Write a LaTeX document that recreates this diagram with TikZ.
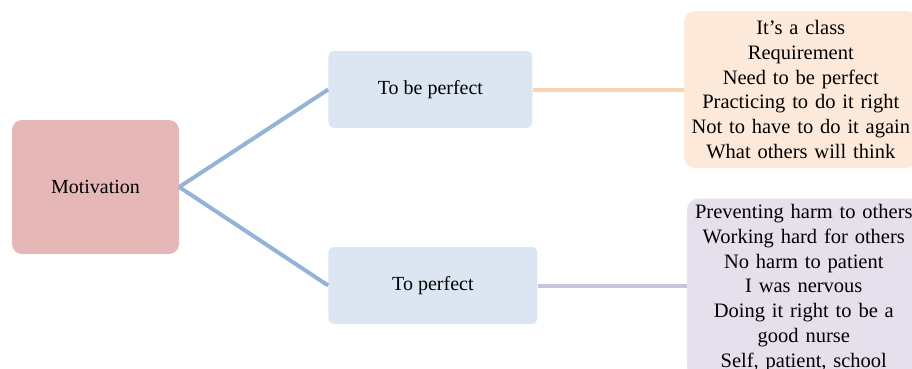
\documentclass[tikz,border=0pt]{standalone}
\usepackage{fontspec}
\setmainfont{Liberation Serif}
\usepackage{tikz}
\usetikzlibrary{positioning,calc}
\definecolor{rosebox}{HTML}{E5B8B7}
\definecolor{bluebox}{HTML}{DCE6F2}
\definecolor{peachbox}{HTML}{FDE9D9}
\definecolor{lilacbox}{HTML}{E5E0EC}
\definecolor{blueline}{HTML}{95B3D7}
\definecolor{peachline}{HTML}{FBD4B4}
\definecolor{lilacline}{HTML}{CCC1DA}
\tikzstyle{root} = [rectangle, fill=rosebox, rounded corners=10pt, %
   minimum width=167pt, minimum height=134pt, inner sep=0pt, %
   font=\fontsize{20}{24}\selectfont]
\tikzstyle{branch} = [rectangle, fill=bluebox, rounded corners=6pt, %
   minimum height=77pt, inner sep=0pt, font=\fontsize{20}{24}\selectfont]
\tikzstyle{leaf} = [rectangle, rounded corners=12pt, text width=226pt, %
   inner xsep=4pt, inner ysep=2pt, align=center, %
   font=\fontsize{20.5}{24.8}\selectfont]
\tikzstyle{link} = [draw, line width=4pt]

\begin{document}
\begin{tikzpicture}
   \useasboundingbox (0,0) rectangle (912pt,-368pt);
   \clip (0,0) rectangle (912pt,-368pt);

   % Root %%%%%%%%%%%%%%%%%%%%%%%%%%%%%%%%%%%%%%%%%%%%%%%%%%%%%%%%%%%
   \node[root] (motiv) at (95.5pt,-187pt) {Motivation};

   % Branches %%%%%%%%%%%%%%%%%%%%%%%%%%%%%%%%%%%%%%%%%%%%%%%%%%%%%%%
   \node[branch, minimum width=204pt, right=149pt of motiv, yshift=97.5pt](beperf){%
      To be perfect};
   \node[branch, minimum width=209pt, right=149pt of motiv, yshift=-98.5pt](toperf){%
      To perfect};

   % Leaves %%%%%%%%%%%%%%%%%%%%%%%%%%%%%%%%%%%%%%%%%%%%%%%%%%%%%%%%%
   \node[leaf, fill=peachbox, minimum height=157pt, right=151pt of beperf](reasons1){%
      It’s a class\\ Requirement\\ Need to be perfect\\ Practicing to do it right\\
      Not to have to do it again\\ What others will think};
   \node[leaf, fill=lilacbox, minimum height=179pt, right=149pt of toperf, yshift=-2.5pt](reasons2){%
      Preventing harm to others\\ Working hard for others\\ No harm to patient\\
      I was nervous\\ Doing it right to be a\\ good nurse\\ Self, patient, school};

   % Draw edges
   \path [link, blueline] (motiv.east) -- (beperf.west);
   \path [link, blueline] (motiv.east) -- (toperf.west);
   \path [link, peachline] (beperf.east) -- (reasons1.west);
   \path [link, lilacline] (toperf.east) -- (reasons2.west |- toperf.east);
\end{tikzpicture}
\end{document}
